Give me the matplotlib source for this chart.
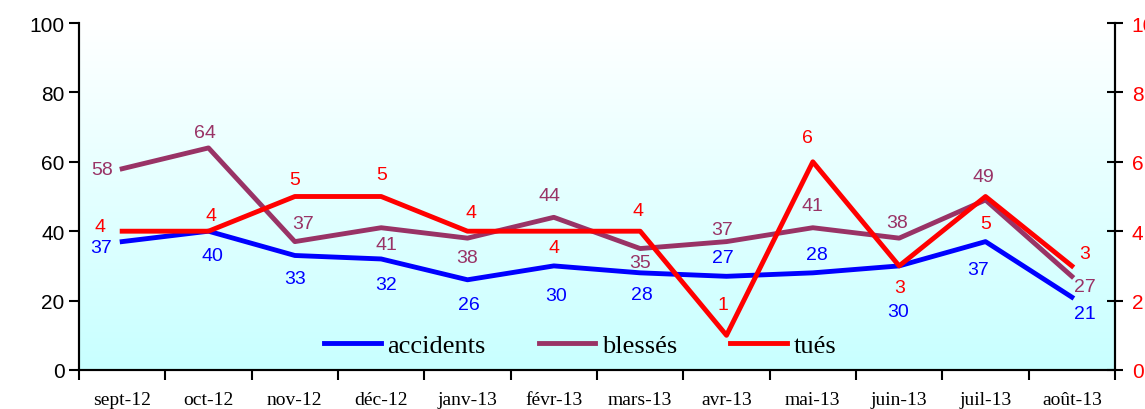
import matplotlib
matplotlib.use("Agg")
import matplotlib.pyplot as plt
import numpy as np

months = ["sept-12", "oct-12", "nov-12", "déc-12", "janv-13", "févr-13",
          "mars-13", "avr-13", "mai-13", "juin-13", "juil-13", "août-13"]
accidents = [37, 40, 33, 32, 26, 30, 28, 27, 28, 30, 37, 21]
blesses = [58, 64, 37, 41, 38, 44, 35, 37, 41, 38, 49, 27]
tues = [4, 4, 5, 5, 4, 4, 4, 1, 6, 3, 5, 3]

# label offsets in screen pixels (dx right, dy down) from each point
off_acc = [(-21, 6), (4, 24), (0, 23), (5, 26), (1, 25), (2, 30),
           (2, 22), (-4, -19), (4, -18), (-1, 46), (-7, 28), (13, 16)]
off_bl = [(-20, 1), (-4, -15), (8, -18), (5, 17), (0, 19), (-4, -22),
          (0, 14), (-4, -12), (0, -22), (-2, -16), (-2, -23), (13, 10)]
off_tu = [(-22, -5), (3, -16), (0, -17), (1, -22), (3, -19), (0, 16),
          (-2, -21), (-4, -31), (-5, -24), (0, 22), (0, 27), (13, -12)]

c_acc = "#0000FF"
c_bl = "#993366"
c_tu = "#FF0000"

fig = plt.figure(figsize=(11.45, 4.10), dpi=100)
ax = fig.add_axes([79 / 1145, 39 / 410, 1036 / 1145, 347 / 410])
ax2 = ax.twinx()

x = np.arange(len(months))

# background gradient white -> light cyan
grad = np.linspace(1, 0, 256).reshape(-1, 1)
cmap = matplotlib.colors.LinearSegmentedColormap.from_list("bg", ["#C8FFFF", "#FFFFFF"])
ax.imshow(grad, cmap=cmap, extent=[0, 1, 0, 1], transform=ax.transAxes,
          aspect="auto", zorder=0, vmin=0, vmax=1)

l1, = ax.plot(x, accidents, color=c_acc, lw=3.5, label="accidents", zorder=3)
l2, = ax.plot(x, blesses, color=c_bl, lw=3.5, label="blessés", zorder=3)
l3, = ax2.plot(x, tues, color=c_tu, lw=3.5, label="tués", zorder=3)

px = 0.72
for xs, ys, offs, col, a in [(x, accidents, off_acc, c_acc, ax),
                             (x, blesses, off_bl, c_bl, ax),
                             (x, tues, off_tu, c_tu, ax2)]:
    for xi, yi, (dx, dy) in zip(xs, ys, offs):
        a.annotate(str(yi), (xi, yi), xytext=(dx * px, -dy * px),
                   textcoords="offset points", ha="center", va="center",
                   color=col, fontsize=14, family="Liberation Sans", zorder=5)

ax.set_xlim(-0.5, len(months) - 0.5)
ax.set_ylim(0, 100)
ax2.set_ylim(0, 10)
ax.set_yticks(np.arange(0, 101, 20))
ax2.set_yticks(np.arange(0, 11, 2))

ax.set_xticks(x)
ax.set_xticklabels(months, family="Liberation Serif", fontsize=14)
ax.set_xticks(np.arange(-0.5, len(months), 1), minor=True)
ax.tick_params(axis="x", which="major", length=0, pad=15)
ax.tick_params(axis="x", which="minor", length=7, width=1.5, direction="out")
ax.tick_params(axis="y", length=7, width=1.5, direction="out", labelsize=15)
for t in ax.get_yticklabels():
    t.set_family("Liberation Sans")
ax2.tick_params(axis="y", length=12, width=1.5, direction="inout",
                labelcolor=c_tu, labelsize=15, pad=6)
for t in ax2.get_yticklabels():
    t.set_family("Liberation Sans")

for a in (ax, ax2):
    a.spines["top"].set_visible(False)
    for s in ("left", "right", "bottom"):
        a.spines[s].set_linewidth(1.5)

leg = ax2.legend(handles=[l1, l2, l3], loc="center", bbox_to_anchor=(0.4836, 0.072),
                 ncol=3, frameon=False, handlelength=2.15, handletextpad=0.25,
                 columnspacing=2.0, borderpad=0.2,
                 prop={"family": "Liberation Serif", "size": 19})

fig.savefig("out.png", dpi=100)
